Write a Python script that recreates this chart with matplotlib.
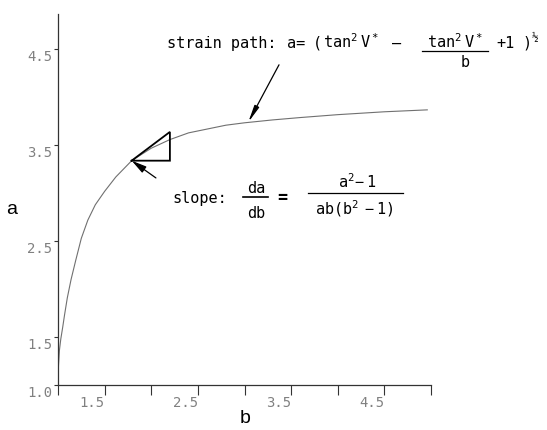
import matplotlib
matplotlib.use("Agg")
import matplotlib.pyplot as plt
from matplotlib.lines import Line2D

plt.rcParams["font.family"] = ["Liberation Sans", "DejaVu Sans"]
plt.rcParams["mathtext.default"] = "regular"

# strain path a(b)
b_vals = [1.0, 1.005, 1.015, 1.03, 1.05, 1.07, 1.10, 1.14, 1.19, 1.25, 1.32,
          1.40, 1.50, 1.62, 1.79, 2.0, 2.2, 2.4, 2.6, 2.8, 3.0, 3.3, 3.6,
          4.0, 4.5, 4.96]
a_vals = [1.0, 1.20, 1.36, 1.48, 1.60, 1.73, 1.91, 2.10, 2.30, 2.53, 2.72,
          2.88, 3.02, 3.17, 3.34, 3.47, 3.56, 3.63, 3.67, 3.71, 3.735, 3.765,
          3.79, 3.82, 3.85, 3.87]

# slope triangle drawn at one point of the path
slope_b, slope_a = 1.79, 3.34
tri_run, tri_rise = 0.41, 0.30

x_ticks = [1.0, 1.5, 2.0, 2.5, 3.0, 3.5, 4.0, 4.5, 5.0]
x_labels = ["", "1.5", "", "2.5", "", "3.5", "", "4.5", ""]
y_ticks = [1.0, 1.5, 2.5, 3.5, 4.5]
y_labels = ["1.0", "1.5", "2.5", "3.5", "4.5"]

W, H = 547, 431
MONO = ["DejaVu Sans Mono"]


def fx(x):
    return x / W


def fy(y):
    return 1 - y / H


def label(x, y, s, **kw):
    kw.setdefault("fontsize", 11)
    kw.setdefault("va", "baseline")
    fig.text(fx(x), fy(y), s, family=MONO, **kw)


def bar(x0, x1, y, lw=0.9):
    fig.add_artist(Line2D([fx(x0), fx(x1)], [fy(y), fy(y)], color="black", lw=lw))


fig = plt.figure(figsize=(W / 100, H / 100), dpi=100)
ax = fig.add_axes([fx(58), fy(386), (431 - 58) / W, (386 - 15) / H])

ax.plot(b_vals, a_vals, color="#707070", lw=0.8)

# slope triangle
tb = [slope_b, slope_b + tri_run, slope_b + tri_run, slope_b]
ta = [slope_a, slope_a, slope_a + tri_rise, slope_a]
ax.plot(tb, ta, color="black", lw=1.3, solid_joinstyle="miter")

ax.set_xlim(1, 5)
ax.set_ylim(1, 4.87)
for side in ("top", "right"):
    ax.spines[side].set_visible(False)
for side in ("left", "bottom"):
    ax.spines[side].set_color("#333333")
    ax.spines[side].set_linewidth(0.9)

ax.set_xticks(x_ticks)
ax.set_xticklabels(x_labels, family=MONO)
ax.set_yticks(y_ticks)
ax.set_yticklabels(y_labels, family=MONO)
ax.tick_params(axis="x", direction="out", length=7, width=0.8, color="#333333",
               pad=0, labelsize=10, labelcolor="#808080")
ax.tick_params(axis="y", direction="out", length=3, width=0.8, color="#333333",
               pad=1, labelsize=10, labelcolor="#808080")
for lbl in ax.get_xticklabels():
    lbl.set_ha("right")
for lbl in ax.get_yticklabels():
    lbl.set_va("top")

# arrows pointing at the path
ax.annotate("", xy=(slope_b, slope_a), xytext=(2.05, 3.16),
            arrowprops=dict(arrowstyle="-|>,head_length=0.9,head_width=0.22",
                            color="black", lw=0.9, shrinkA=0, shrinkB=0))
ax.annotate("", xy=(3.04, 3.74), xytext=(3.37, 4.34),
            arrowprops=dict(arrowstyle="-|>,head_length=1.0,head_width=0.15",
                            color="black", lw=0.9, shrinkA=0, shrinkB=0))

# strain path label
label(167, 48, "strain path:")
label(287, 48, "a=")
label(313, 48, "(")
label(323, 48, r"$\mathregular{tan^2\,V^*}$")
label(392, 48, "\u2013")
label(455, 48, r"$\mathregular{tan^2\,V^*}$", ha="center")
bar(422, 488, 52)
label(465, 67, "b", ha="center")
label(496, 48, "+1")
label(522, 48, ")")
label(532, 40, "\u00bd", fontsize=8)

# slope label
label(172, 203, "slope:")
label(256, 193, "da", ha="center")
bar(243, 268, 198, lw=1.2)
label(256, 218, "db", ha="center")
label(282, 198, "=", va="center", ha="center", fontweight="bold", fontsize=12)
label(357, 188, r"$\mathregular{a^2\!-1}$", ha="center")
bar(308, 403, 194)
label(354, 215, r"$\mathregular{ab(b^2\,-1)}$", ha="center")

# axis names
fig.text(fx(12), fy(210), "a", fontsize=14, ha="center", va="center")
fig.text(fx(245), fy(419), "b", fontsize=14, ha="center", va="center")

fig.savefig("out.png", dpi=100, facecolor="white")
